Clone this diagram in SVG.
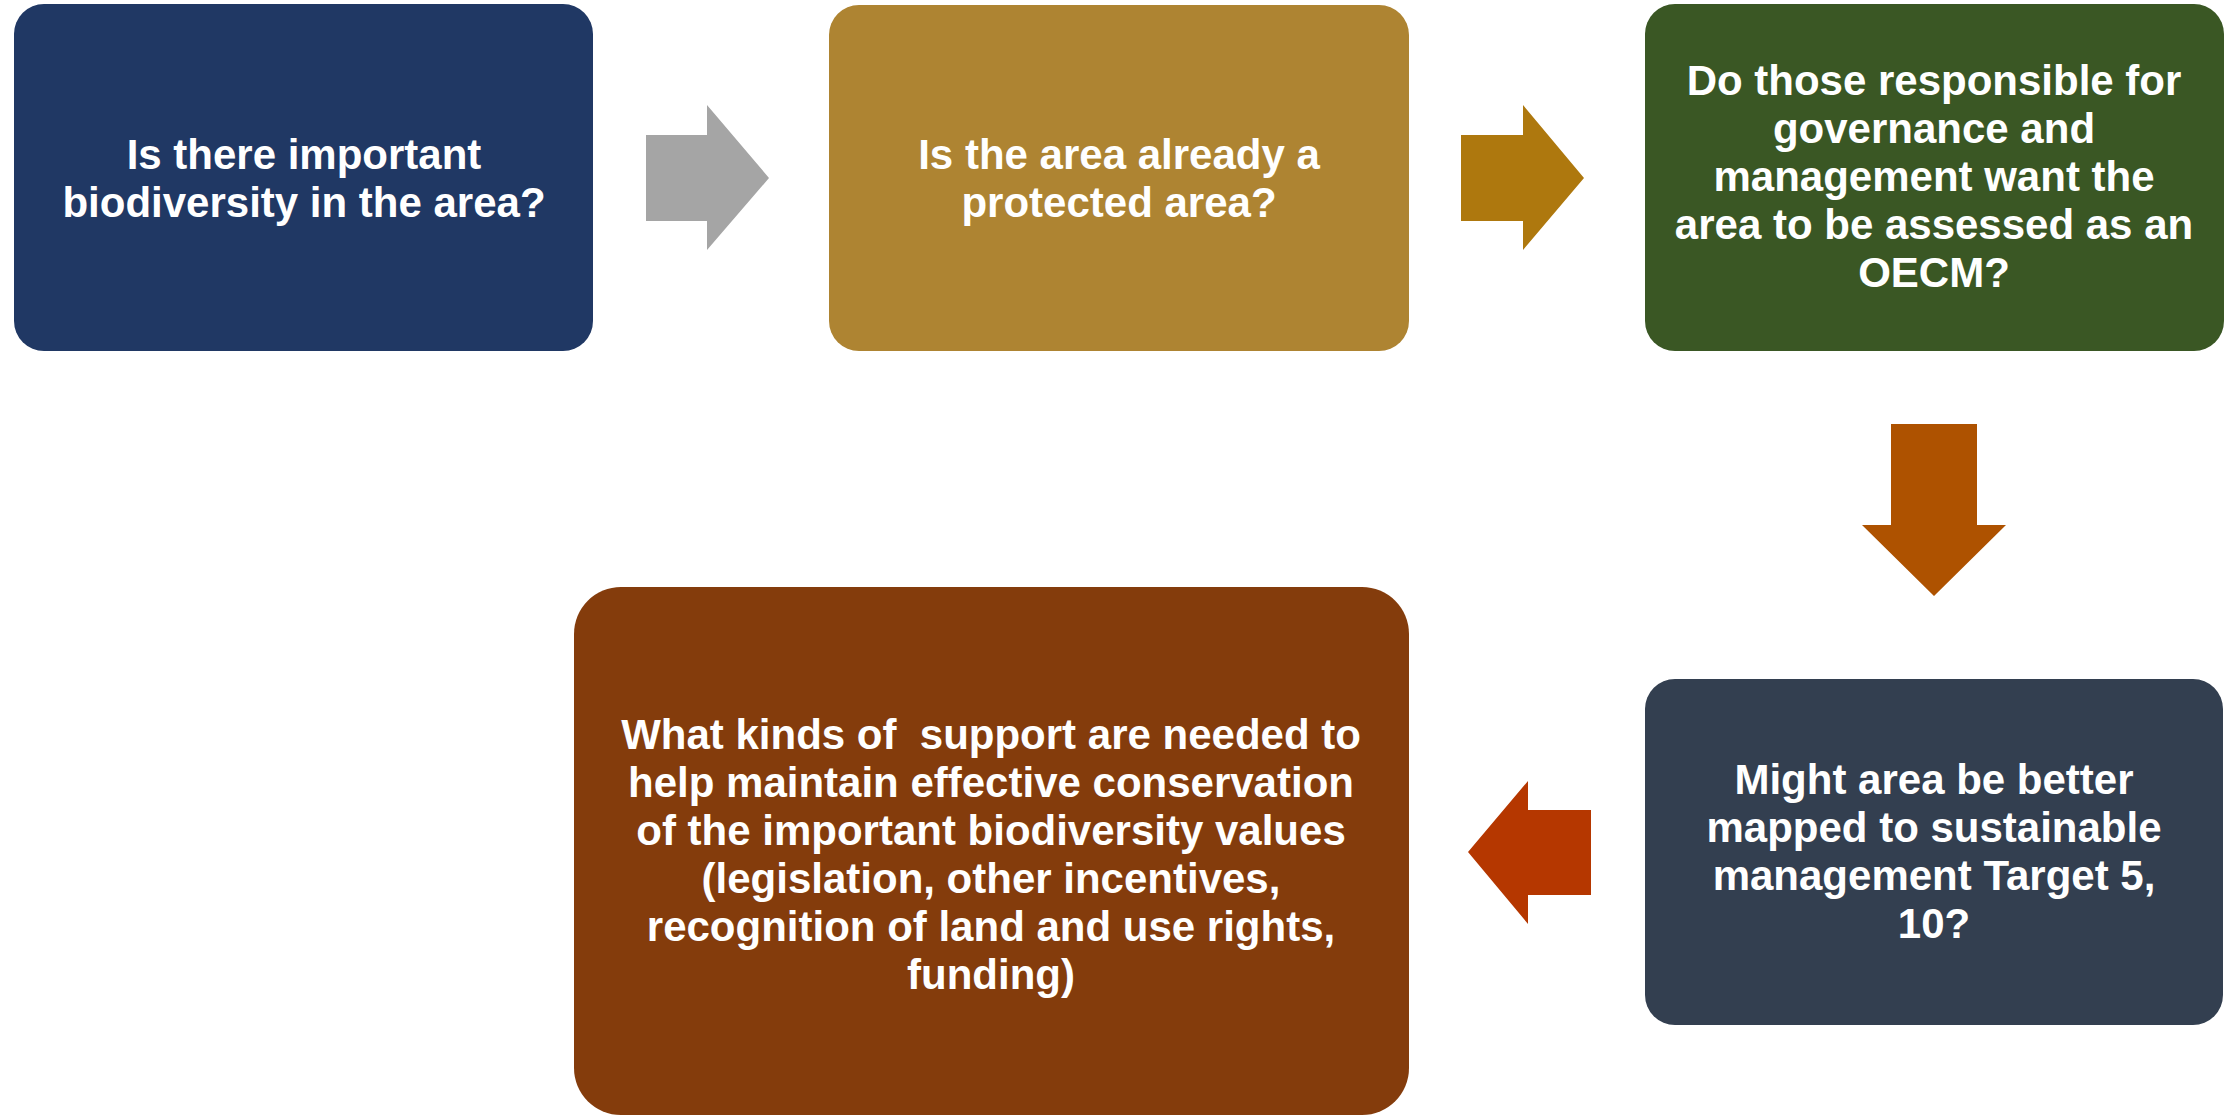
<svg xmlns="http://www.w3.org/2000/svg" width="2236" height="1115" viewBox="0 0 2236 1115">
  <style>
    .lbl { font-family: "Liberation Sans", Arial, sans-serif; font-weight: bold; font-size: 42px; fill: #ffffff; text-anchor: middle; white-space: pre; }
  </style>
  <rect width="2236" height="1115" fill="#ffffff"/>

  <!-- connectors: block arrows between the steps -->
  <g id="connectors">
    <polygon id="arrow-1-2" fill="#A5A5A5" points="646,135 707,135 707,105 769,178 707,250 707,221 646,221"/>
    <polygon id="arrow-2-3" fill="#AE780E" points="1461,135 1523,135 1523,105 1584,178 1523,250 1523,221 1461,221"/>
    <polygon id="arrow-3-4" fill="#AE5200" points="1891,424 1977,424 1977,525 2006,525 1934,596 1862,525 1891,525"/>
    <polygon id="arrow-4-5" fill="#B53700" points="1591,810 1528,810 1528,781 1468,852 1528,924 1528,895 1591,895"/>
  </g>

  <g id="node-biodiversity">
    <rect x="14" y="4" width="579" height="347" rx="30" ry="30" fill="#203864"/>
    <text class="lbl" x="304" y="169">Is there important</text>
    <text class="lbl" x="304" y="217">biodiversity in the area?</text>
  </g>

  <g id="node-protected">
    <rect x="829" y="5" width="580" height="346" rx="30" ry="30" fill="#AE8432"/>
    <text class="lbl" x="1119" y="169">Is the area already a</text>
    <text class="lbl" x="1119" y="217">protected area?</text>
  </g>

  <g id="node-governance">
    <rect x="1645" y="4" width="579" height="347" rx="30" ry="30" fill="#3A5724"/>
    <text class="lbl" x="1934" y="95">Do those responsible for</text>
    <text class="lbl" x="1934" y="143">governance and</text>
    <text class="lbl" x="1934" y="191">management want the</text>
    <text class="lbl" x="1934" y="239">area to be assessed as an</text>
    <text class="lbl" x="1934" y="287">OECM?</text>
  </g>

  <g id="node-target">
    <rect x="1645" y="679" width="578" height="346" rx="30" ry="30" fill="#333F50"/>
    <text class="lbl" x="1934" y="794">Might area be better</text>
    <text class="lbl" x="1934" y="842">mapped to sustainable</text>
    <text class="lbl" x="1934" y="890">management Target 5,</text>
    <text class="lbl" x="1934" y="938">10?</text>
  </g>

  <g id="node-support">
    <rect x="574" y="587" width="835" height="528" rx="47" ry="47" fill="#843C0C"/>
    <text class="lbl" x="991" y="749">What kinds of  support are needed to</text>
    <text class="lbl" x="991" y="797">help maintain effective conservation</text>
    <text class="lbl" x="991" y="845">of the important biodiversity values</text>
    <text class="lbl" x="991" y="893">(legislation, other incentives,</text>
    <text class="lbl" x="991" y="941">recognition of land and use rights,</text>
    <text class="lbl" x="991" y="989">funding)</text>
  </g>
</svg>
